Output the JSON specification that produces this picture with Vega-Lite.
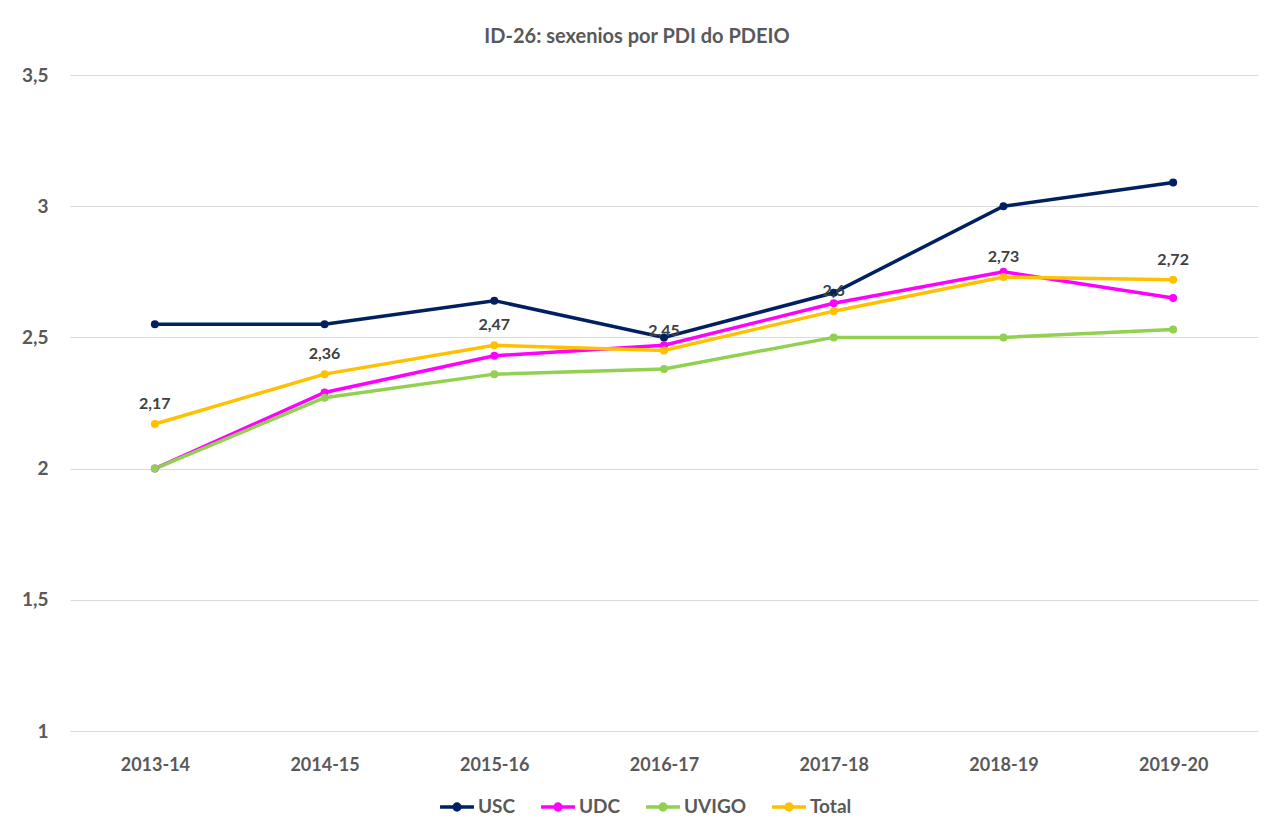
{
  "$schema": "https://vega.github.io/schema/vega-lite/v6.json",
  "autosize": {"type": "none"},
  "width": 1188,
  "height": 656,
  "padding": {"left": 70, "top": 75, "right": 16, "bottom": 100},
  "background": "white",
  "config": {
    "locale": {"number": {"decimal": ",", "thousands": ".", "grouping": [3], "currency": ["", " €"]}},
    "font": "Lato",
    "view": {"stroke": null}
  },
  "title": {
    "text": "ID-26: sexenios por PDI do PDEIO",
    "fontSize": 20,
    "fontWeight": "bold",
    "color": "#595959",
    "font": "Lato",
    "anchor": "middle",
    "dx": -27,
    "offset": 19
  },
  "data": {
    "values": [
      {"curso": "2013-14", "serie": "USC", "valor": 2.55},
      {"curso": "2014-15", "serie": "USC", "valor": 2.55},
      {"curso": "2015-16", "serie": "USC", "valor": 2.64},
      {"curso": "2016-17", "serie": "USC", "valor": 2.50},
      {"curso": "2017-18", "serie": "USC", "valor": 2.67},
      {"curso": "2018-19", "serie": "USC", "valor": 3.00},
      {"curso": "2019-20", "serie": "USC", "valor": 3.09},
      {"curso": "2013-14", "serie": "UDC", "valor": 2.00},
      {"curso": "2014-15", "serie": "UDC", "valor": 2.29},
      {"curso": "2015-16", "serie": "UDC", "valor": 2.43},
      {"curso": "2016-17", "serie": "UDC", "valor": 2.47},
      {"curso": "2017-18", "serie": "UDC", "valor": 2.63},
      {"curso": "2018-19", "serie": "UDC", "valor": 2.75},
      {"curso": "2019-20", "serie": "UDC", "valor": 2.65},
      {"curso": "2013-14", "serie": "UVIGO", "valor": 2.00},
      {"curso": "2014-15", "serie": "UVIGO", "valor": 2.27},
      {"curso": "2015-16", "serie": "UVIGO", "valor": 2.36},
      {"curso": "2016-17", "serie": "UVIGO", "valor": 2.38},
      {"curso": "2017-18", "serie": "UVIGO", "valor": 2.50},
      {"curso": "2018-19", "serie": "UVIGO", "valor": 2.50},
      {"curso": "2019-20", "serie": "UVIGO", "valor": 2.53},
      {"curso": "2013-14", "serie": "Total", "valor": 2.17},
      {"curso": "2014-15", "serie": "Total", "valor": 2.36},
      {"curso": "2015-16", "serie": "Total", "valor": 2.47},
      {"curso": "2016-17", "serie": "Total", "valor": 2.45},
      {"curso": "2017-18", "serie": "Total", "valor": 2.60},
      {"curso": "2018-19", "serie": "Total", "valor": 2.73},
      {"curso": "2019-20", "serie": "Total", "valor": 2.72}
    ]
  },
  "encoding": {
    "x": {
      "field": "curso",
      "type": "ordinal",
      "scale": {"type": "point", "padding": 0.5},
      "axis": {
        "title": null,
        "labelAngle": 0,
        "labelFontSize": 18,
        "labelFontWeight": "bold",
        "labelColor": "#595959",
        "labelFont": "Lato",
        "ticks": false,
        "domain": false,
        "labelPadding": 25
      }
    },
    "y": {
      "field": "valor",
      "type": "quantitative",
      "scale": {"domain": [1, 3.5], "nice": false, "zero": false},
      "axis": {
        "title": null,
        "values": [1, 1.5, 2, 2.5, 3, 3.5],
        "format": ".2~f",
        "labelFontSize": 19,
        "labelFontWeight": "bold",
        "labelColor": "#595959",
        "labelFont": "Lato",
        "ticks": false,
        "domain": false,
        "labelPadding": 22,
        "gridColor": "#d9d9d9",
        "gridWidth": 1
      }
    }
  },
  "layer": [
    {
      "mark": {"type": "line", "strokeWidth": 3.5, "point": {"size": 64, "filled": true}},
      "encoding": {
        "color": {
          "field": "serie",
          "type": "nominal",
          "sort": ["USC", "UDC", "UVIGO", "Total"],
          "scale": {"domain": ["USC", "UDC", "UVIGO", "Total"], "range": ["#002060", "#ff00ff", "#92d050", "#ffc000"]},
          "legend": {
            "title": null,
            "orient": "none",
            "legendX": 368,
            "legendY": 713,
            "direction": "horizontal",
            "labelFontSize": 19,
            "labelFontWeight": "bold",
            "labelColor": "#595959",
            "labelFont": "Lato",
            "symbolType": "M-1,0H1M-0.17,0a0.17,0.17 0 1,0 0.34,0a0.17,0.17 0 1,0 -0.34,0",
            "symbolSize": 1150,
            "symbolStrokeWidth": 3.5,
            "columnPadding": 18,
            "labelOffset": 2,
            "encode": {
              "symbols": {"update": {"fill": {"scale": "color", "field": "value"}, "stroke": {"scale": "color", "field": "value"}}}
            }
          }
        }
      }
    },
    {
      "transform": [{"filter": "datum.serie === 'Total'"}],
      "mark": {"type": "text", "baseline": "bottom", "dy": -12, "fontSize": 16, "fontWeight": "bold", "color": "#404040", "font": "Lato"},
      "encoding": {
        "text": {"field": "valor", "type": "quantitative", "format": ".2~f"}
      }
    }
  ]
}
